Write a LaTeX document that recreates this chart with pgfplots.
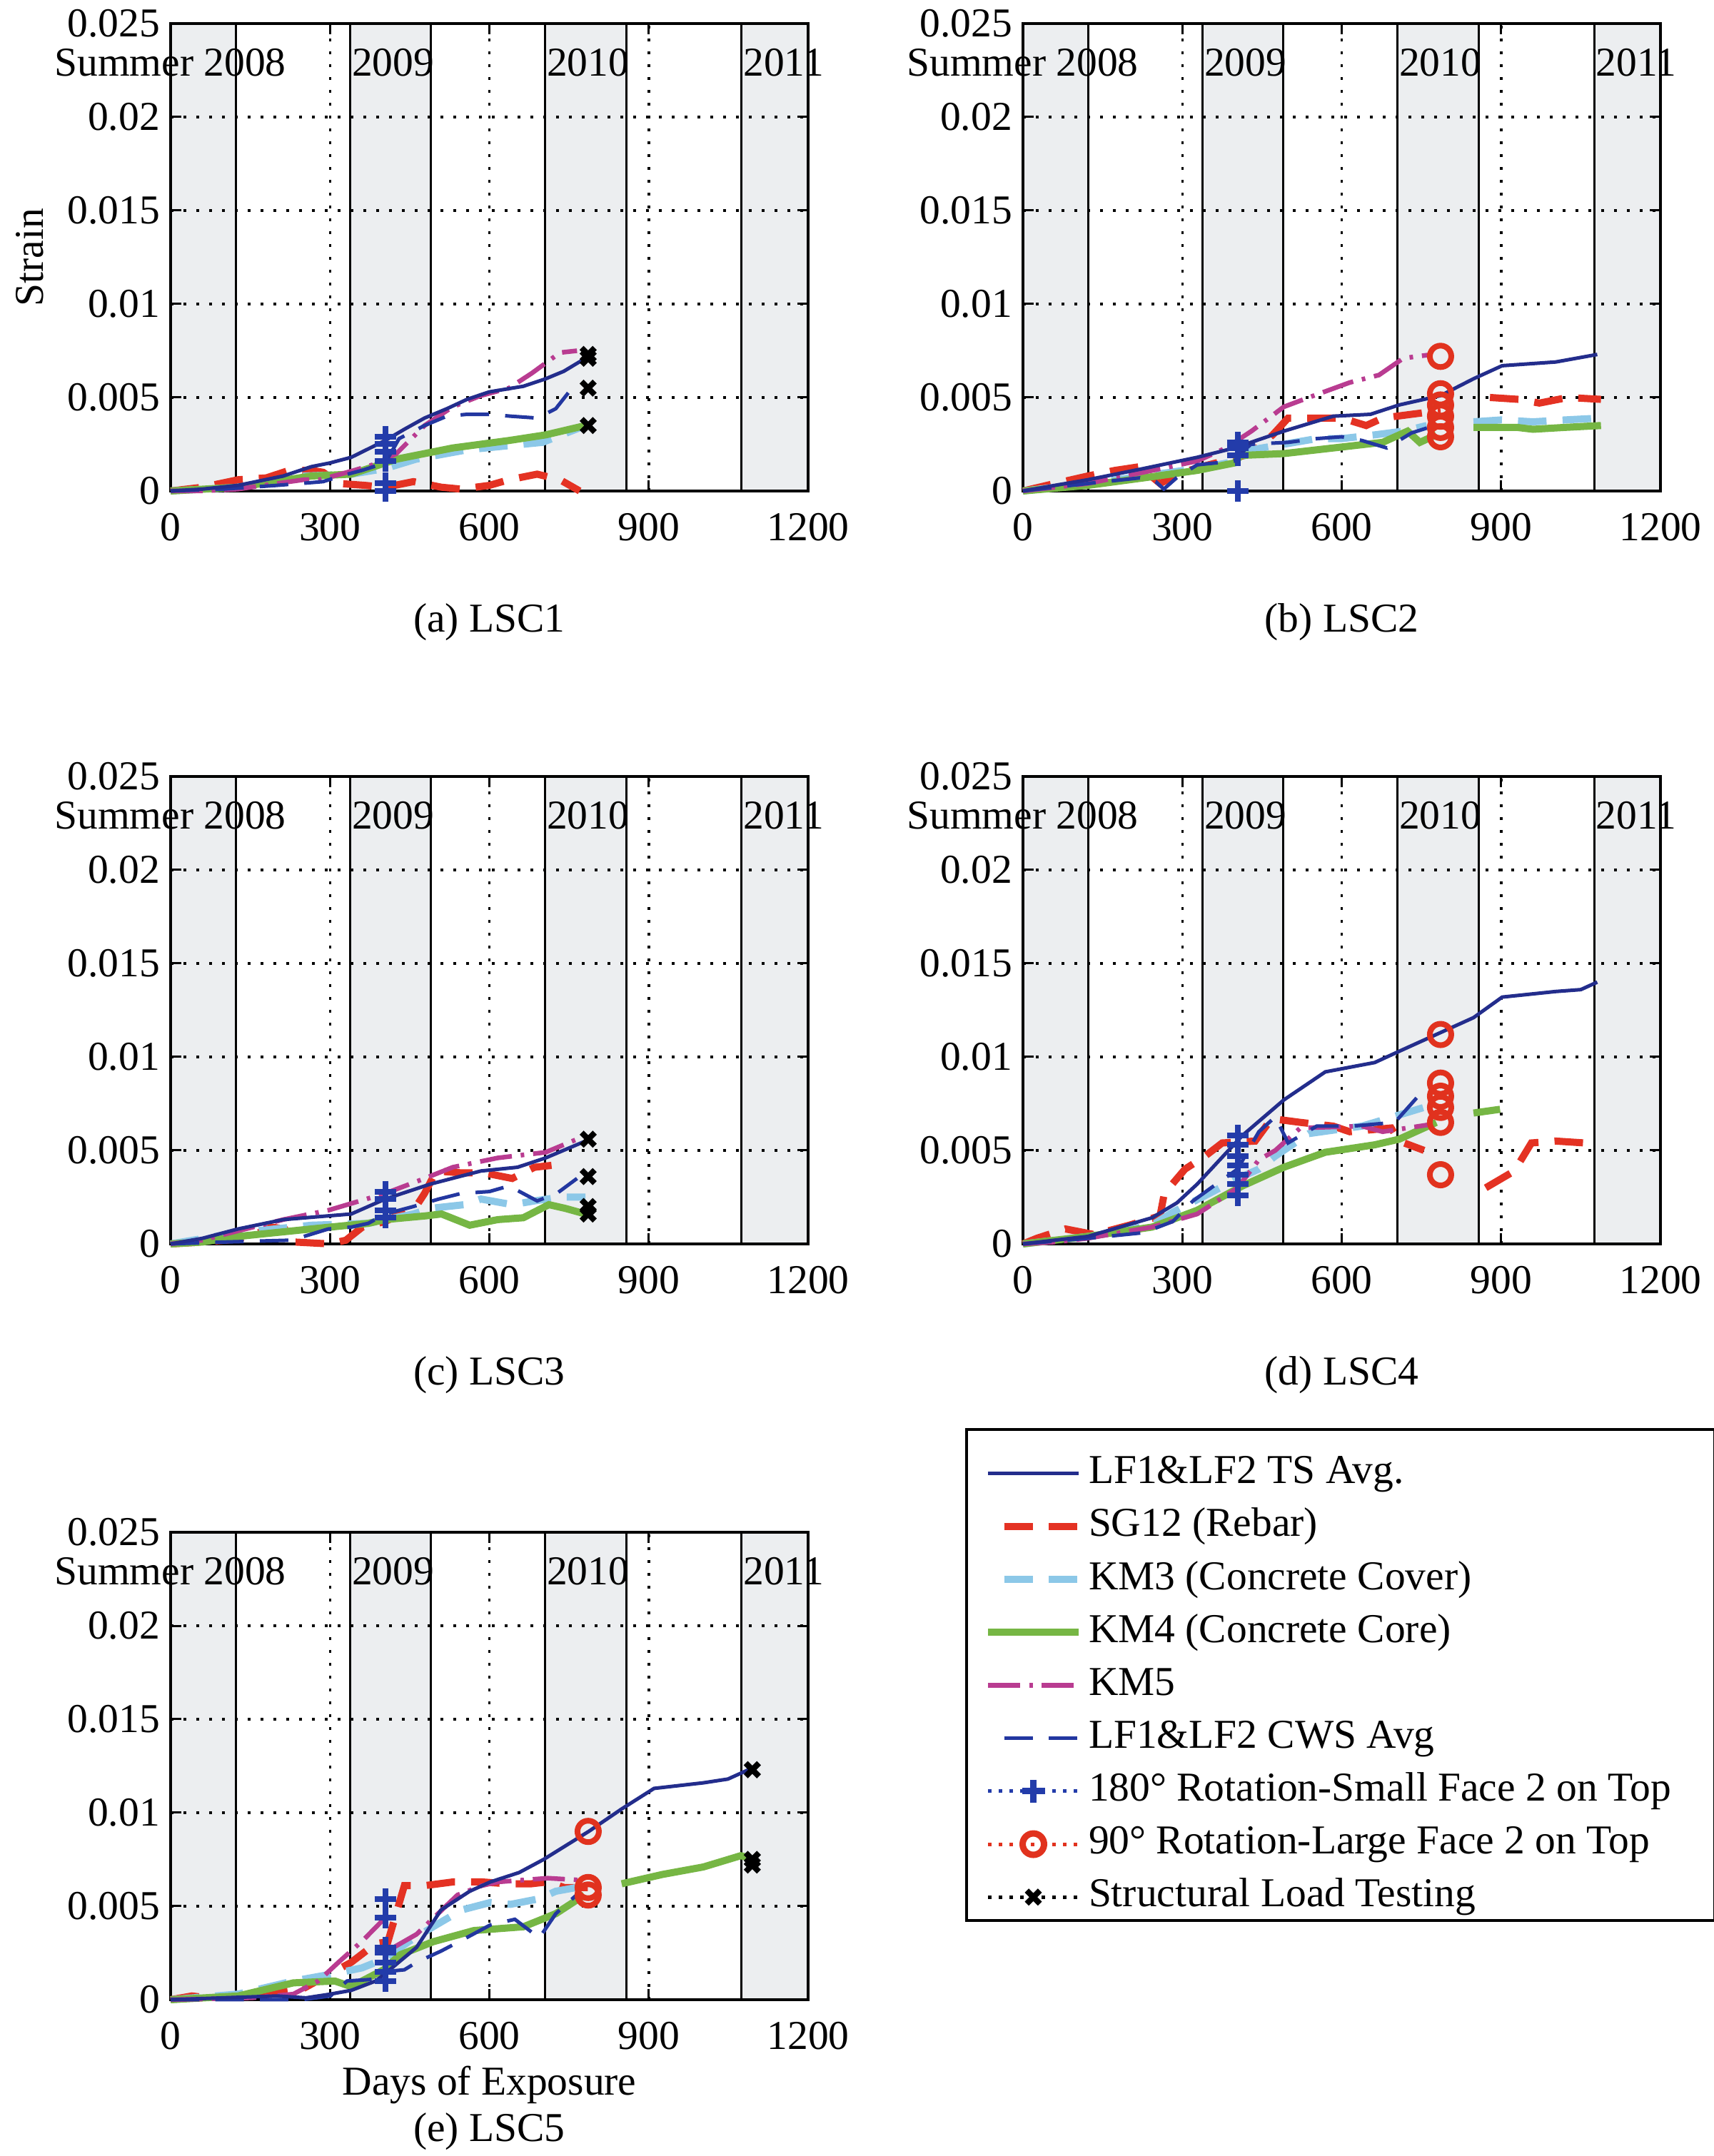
\documentclass[border=0pt]{standalone}
\usepackage{fontspec}
\setmainfont{Liberation Serif}
\usepackage{pgfplots}
\pgfplotsset{compat=1.18}
\definecolor{bandgray}{RGB}{236,238,240}
\definecolor{tsblue}{RGB}{35,45,140}
\definecolor{cwsblue}{RGB}{35,55,160}
\definecolor{sgred}{RGB}{228,50,35}
\definecolor{kmthree}{RGB}{140,200,232}
\definecolor{kmfour}{RGB}{118,182,68}
\definecolor{kmfive}{RGB}{185,60,145}
\definecolor{rotblue}{RGB}{35,60,170}
\definecolor{rotred}{RGB}{225,50,30}
\pgfplotsset{
 panel/.style={
  scale only axis, width=178.6pt, height=131pt, anchor=south west,
  xmin=0, xmax=1200, ymin=0, ymax=0.025,
  xtick={0,300,600,900,1200}, xticklabels={0,300,600,900,1200},
  ytick={0,0.005,0.01,0.015,0.02,0.025},
  yticklabels={0,0.005,0.01,0.015,0.02,0.025},
  scaled ticks=false,
  tick align=inside, major tick length=3pt,
  tick style={black, line width=0.6pt},
  xticklabel style={yshift=-2.3pt},
  yticklabel style={xshift=1pt},
  grid=major,
  major grid style={black, line width=0.7pt, dash pattern=on 0.7pt off 2.9pt},
  axis line style={black, line width=0.8pt},
  clip=false, set layers, unbounded coords=jump,
 },
 bandbox/.style={fill=bandgray, draw=none, on layer=axis background, forget plot},
 bandline/.style={black, line width=0.6pt, on layer=axis background, forget plot},
 ts/.style={tsblue, line width=1pt},
 sg/.style={sgred, line width=2pt, dash pattern=on 8pt off 4.5pt},
 kmc/.style={kmthree, line width=2pt, dash pattern=on 8pt off 4.5pt},
 kmk/.style={kmfour, line width=2pt},
 kmf/.style={kmfive, line width=1.3pt, dash pattern=on 9pt off 2.5pt on 1pt off 2.5pt},
 cws/.style={cwsblue, line width=1pt, dash pattern=on 8pt off 4.5pt},
 rotp/.style={rotblue, only marks, mark=+, mark size=3pt, mark options={solid, line width=1.6pt}},
 roto/.style={rotred, only marks, mark=o, mark size=3pt, mark options={solid, line width=1.6pt}},
 slt/.style={black, only marks, mark=x, mark size=2.6pt, mark options={solid, line width=1.6pt}},
}
\newcommand\bands{%
 \addplot[bandbox] coordinates {(0,0.025) (123,0.025)} \closedcycle;
 \addplot[bandbox] coordinates {(338,0.025) (490,0.025)} \closedcycle;
 \addplot[bandbox] coordinates {(705,0.025) (858,0.025)} \closedcycle;
 \addplot[bandbox] coordinates {(1075,0.025) (1200,0.025)} \closedcycle;
 \addplot[bandline] coordinates {(123,0) (123,0.025)};
 \addplot[bandline] coordinates {(338,0) (338,0.025)};
 \addplot[bandline] coordinates {(490,0) (490,0.025)};
 \addplot[bandline] coordinates {(705,0) (705,0.025)};
 \addplot[bandline] coordinates {(858,0) (858,0.025)};
 \addplot[bandline] coordinates {(1075,0) (1075,0.025)};
 \node[anchor=west, inner sep=0pt] at (axis cs:-220,0.0229) {Summer 2008};
 \node[anchor=west, inner sep=0pt] at (axis cs:340,0.0229) {2009};
 \node[anchor=west, inner sep=0pt] at (axis cs:707,0.0229) {2010};
 \node[anchor=west, inner sep=0pt] at (axis cs:1077,0.0229) {2011};
}
\begin{document}
\fontsize{11.5pt}{13.8pt}\selectfont
\begin{tikzpicture}
\path (0,0) rectangle (480pt,604.2pt);

% (a) LSC1
\begin{axis}[panel, at={(47.8pt,466.6pt)}, ylabel={Strain},
  ylabel style={at={(axis description cs:-0.2206,0.5)}, anchor=center}]
\bands
\addplot[sg] coordinates {(0,0) (60,0.0002) (127,0.0006) (180,0.0007) (223,0.0011) (265,0.0011) (287,0.0010) (318,0.0004) (366,0.0003) (404,0.0002) (457,0.0005) (510,0.0002) (547,0.0001) (600,0.0003) (637,0.0006) (690,0.0009) (733,0.0006) (770,0.0000)};
\addplot[kmc] coordinates {(0,0) (127,0.0002) (250,0.0008) (340,0.0009) (404,0.0012) (462,0.0017) (558,0.0022) (664,0.0025) (700,0.0026) (781,0.0035)};
\addplot[kmk] coordinates {(0,0) (127,0.0002) (265,0.0008) (340,0.0009) (404,0.0015) (425,0.0017) (531,0.0023) (637,0.0027) (706,0.0030) (781,0.0035)};
\addplot[kmf] coordinates {(0,0) (60,0) (127,0.0001) (200,0.0004) (250,0.0006) (280,0.0006) (320,0.0009) (345,0.0011) (380,0.0014) (404,0.0017) (425,0.0020) (478,0.0035) (531,0.0045) (584,0.0051) (637,0.0055) (680,0.0063) (733,0.0074) (765,0.0075)};
\addplot[cws] coordinates {(0,0) (100,0.0001) (200,0.0003) (244,0.0004) (287,0.0005) (320,0.0008) (360,0.0011) (404,0.0015) (430,0.0028) (478,0.0035) (520,0.0040) (558,0.0041) (600,0.0041) (640,0.0040) (690,0.0039) (725,0.0044) (750,0.0053) (770,0.0055)};
\addplot[ts] coordinates {(0,0) (60,0.0001) (127,0.0003) (212,0.0008) (265,0.0013) (300,0.0015) (340,0.0018) (404,0.0027) (440,0.0033) (478,0.0039) (520,0.0044) (558,0.0049) (600,0.0053) (664,0.0056) (706,0.0060) (740,0.0064) (781,0.0071)};
\addplot[rotp] coordinates {(404,0.0029) (404,0.0025) (404,0.0021) (404,0.0016) (404,0.0004) (404,0.0000)};
\addplot[slt] coordinates {(786,0.0073) (786,0.0071) (786,0.0055) (786,0.0035)};
\node at (axis description cs:0.5,-0.281) {(a) LSC1};
\end{axis}

% (b) LSC2
\begin{axis}[panel, at={(286.6pt,466.6pt)}]
\bands
\addplot[sg] coordinates {(0,0) (60,0.0004) (122,0.0008) (173,0.0011) (220,0.0013) (258,0.0004) (300,0.0010) (350,0.0014) (404,0.0018) (429,0.0020) (470,0.0030) (499,0.0039) (553,0.0039) (600,0.0039) (646,0.0035) (677,0.0039) (731,0.0041) (786,0.0043) (nan,nan) (879,0.0050) (933,0.0049) (972,0.0047) (1026,0.0050) (1088,0.0049)};
\addplot[kmc] coordinates {(0,0) (122,0.0004) (227,0.0008) (328,0.0012) (404,0.0016) (429,0.0022) (491,0.0025) (553,0.0028) (600,0.0028) (662,0.0030) (716,0.0032) (760,0.0035) (nan,nan) (848,0.0037) (900,0.0038) (960,0.0037) (1020,0.0038) (1088,0.0039)};
\addplot[kmk] coordinates {(0,0) (122,0.0003) (227,0.0007) (328,0.0011) (398,0.0015) (410,0.0019) (491,0.0020) (584,0.0023) (677,0.0026) (724,0.0032) (747,0.0026) (778,0.0030) (nan,nan) (848,0.0034) (930,0.0034) (960,0.0033) (1020,0.0034) (1088,0.0035)};
\addplot[kmf] coordinates {(0,0) (122,0.0004) (227,0.0010) (328,0.0016) (382,0.0023) (430,0.0032) (491,0.0045) (538,0.0050) (615,0.0058) (670,0.0062) (716,0.0071) (770,0.0073)};
\addplot[cws] coordinates {(0,0) (122,0.0004) (220,0.0007) (250,0.0005) (265,0.0001) (289,0.0007) (328,0.0014) (398,0.0016) (410,0.0020) (429,0.0025) (499,0.0026) (553,0.0028) (600,0.0029) (638,0.0027) (685,0.0023) (731,0.0031) (786,0.0036)};
\addplot[ts] coordinates {(0,0) (60,0.0003) (122,0.0006) (227,0.0012) (328,0.0018) (398,0.0023) (491,0.0032) (584,0.0040) (654,0.0041) (708,0.0046) (786,0.0051) (848,0.0060) (902,0.0067) (1003,0.0069) (1081,0.0073)};
\addplot[rotp] coordinates {(404,0.0026) (404,0.0023) (404,0.0019) (404,0.0000)};
\addplot[roto] coordinates {(786,0.0072) (786,0.0052) (786,0.0046) (786,0.0040) (786,0.0034) (786,0.0029)};
\node at (axis description cs:0.5,-0.281) {(b) LSC2};
\end{axis}

% (c) LSC3
\begin{axis}[panel, at={(47.8pt,255.6pt)}]
\bands
\addplot[sg] coordinates {(0,0) (60,0.0001) (106,0.0002) (150,0.0004) (190,0.0009) (215,0.0008) (234,0.0001) (300,0.0000) (330,0.0002) (361,0.0009) (404,0.0012) (462,0.0020) (478,0.0027) (500,0.0039) (547,0.0038) (590,0.0038) (643,0.0035) (685,0.0041) (717,0.0042)};
\addplot[kmc] coordinates {(0,0) (127,0.0006) (265,0.0010) (372,0.0011) (404,0.0013) (457,0.0016) (489,0.0019) (553,0.0021) (584,0.0024) (643,0.0021) (685,0.0023) (733,0.0025) (781,0.0025)};
\addplot[kmk] coordinates {(0,0) (60,0.0001) (127,0.0004) (265,0.0008) (372,0.0011) (404,0.0013) (480,0.0015) (510,0.0016) (563,0.0010) (616,0.0013) (664,0.0014) (712,0.0021) (743,0.0019) (781,0.0016)};
\addplot[kmf] coordinates {(0,0) (60,0.0002) (127,0.0007) (212,0.0013) (297,0.0018) (404,0.0027) (478,0.0035) (531,0.0041) (616,0.0046) (706,0.0049) (765,0.0056)};
\addplot[cws] coordinates {(0,0) (100,0.0001) (228,0.0002) (297,0.0008) (340,0.0009) (372,0.0011) (404,0.0016) (457,0.0020) (505,0.0024) (547,0.0027) (600,0.0028) (637,0.0031) (690,0.0023) (727,0.0027) (765,0.0035)};
\addplot[ts] coordinates {(0,0) (60,0.0003) (127,0.0008) (212,0.0013) (297,0.0015) (340,0.0016) (404,0.0024) (489,0.0032) (584,0.0039) (653,0.0041) (706,0.0046) (781,0.0055)};
\addplot[rotp] coordinates {(404,0.0028) (404,0.0024) (404,0.0018) (404,0.0014)};
\addplot[slt] coordinates {(786,0.0056) (786,0.0036) (786,0.0020) (786,0.0016)};
\node at (axis description cs:0.5,-0.281) {(c) LSC3};
\end{axis}

% (d) LSC4
\begin{axis}[panel, at={(286.6pt,255.6pt)}]
\bands
\addplot[sg] coordinates {(0,0) (26,0.0003) (80,0.0008) (134,0.0005) (200,0.0010) (258,0.0015) (266,0.0027) (305,0.0040) (343,0.0047) (375,0.0054) (437,0.0055) (468,0.0067) (522,0.0065) (584,0.0063) (615,0.0060) (693,0.0062) (708,0.0055) (755,0.0050) (nan,nan) (871,0.0030) (925,0.0039) (957,0.0054) (1003,0.0055) (1057,0.0054) (1081,0.0051)};
\addplot[kmc] coordinates {(0,0) (122,0.0004) (243,0.0010) (282,0.0017) (351,0.0027) (404,0.0035) (444,0.0040) (475,0.0047) (538,0.0059) (638,0.0063) (662,0.0065) (778,0.0075)};
\addplot[kmk] coordinates {(0,0) (122,0.0004) (243,0.0009) (328,0.0018) (413,0.0031) (491,0.0041) (569,0.0049) (662,0.0053) (708,0.0056) (778,0.0065) (nan,nan) (848,0.0070) (898,0.0072)};
\addplot[kmf] coordinates {(0,0) (60,0.0001) (122,0.0003) (243,0.0009) (328,0.0016) (404,0.0030) (444,0.0045) (475,0.0050) (522,0.0062) (638,0.0063) (677,0.0060) (770,0.0064)};
\addplot[cws] coordinates {(0,0) (122,0.0003) (227,0.0006) (282,0.0012) (320,0.0023) (359,0.0031) (404,0.0040) (444,0.0060) (475,0.0068) (499,0.0054) (553,0.0063) (620,0.0063) (700,0.0065) (747,0.0080)};
\addplot[ts] coordinates {(0,0) (60,0.0002) (122,0.0004) (243,0.0014) (290,0.0022) (328,0.0032) (413,0.0058) (491,0.0077) (569,0.0092) (662,0.0097) (708,0.0103) (778,0.0112) (848,0.0121) (902,0.0132) (1003,0.0135) (1050,0.0136) (1081,0.0140)};
\addplot[rotp] coordinates {(404,0.0058) (404,0.0053) (404,0.0047) (404,0.0042) (404,0.0037) (404,0.0032) (404,0.0026)};
\addplot[roto] coordinates {(786,0.0112) (786,0.0086) (786,0.0079) (786,0.0073) (786,0.0065) (786,0.0037)};
\node at (axis description cs:0.5,-0.281) {(d) LSC4};
\end{axis}

% (e) LSC5
\begin{axis}[panel, at={(47.8pt,43.8pt)}, xlabel={Days of Exposure},
  xlabel style={at={(axis description cs:0.5,-0.183)}, anchor=center}]
\bands
\addplot[sg] coordinates {(0,0) (40,0.0002) (70,0.0001) (150,0.0002) (250,0.0006) (340,0.0020) (386,0.0030) (409,0.0031) (440,0.0061) (478,0.0061) (532,0.0063) (586,0.0063) (633,0.0062) (679,0.0062) (710,0.0063) (741,0.0060) (786,0.0060)};
\addplot[kmc] coordinates {(0,0) (127,0.0003) (231,0.0010) (309,0.0014) (360,0.0017) (404,0.0022) (448,0.0031) (494,0.0039) (548,0.0048) (602,0.0052) (640,0.0051) (694,0.0054) (725,0.0058) (764,0.0060)};
\addplot[kmk] coordinates {(0,0) (127,0.0002) (231,0.0009) (309,0.0010) (340,0.0007) (401,0.0016) (432,0.0024) (494,0.0031) (571,0.0037) (664,0.0039) (725,0.0046) (779,0.0056) (nan,nan) (849,0.0062) (926,0.0067) (1003,0.0071) (1073,0.0077) (1088,0.0076)};
\addplot[kmf] coordinates {(0,0) (154,0.0001) (231,0.0003) (278,0.0010) (316,0.0020) (363,0.0032) (401,0.0043) (nan,nan) (420,0.0028) (463,0.0035) (540,0.0056) (586,0.0061) (617,0.0063) (710,0.0065) (770,0.0064)};
\addplot[cws] coordinates {(0,0) (150,0.0000) (247,0.0000) (301,0.0002) (332,0.0010) (386,0.0011) (404,0.0015) (440,0.0016) (463,0.0020) (509,0.0026) (556,0.0033) (602,0.0040) (648,0.0043) (694,0.0033) (725,0.0046) (772,0.0058)};
\addplot[ts] coordinates {(0,0) (100,0.0001) (200,0.0002) (255,0.0001) (301,0.0003) (340,0.0005) (386,0.0010) (404,0.0014) (463,0.0028) (509,0.0048) (563,0.0058) (602,0.0063) (656,0.0068) (702,0.0075) (787,0.0090) (849,0.0102) (910,0.0113) (1003,0.0116) (1049,0.0118) (1088,0.0123)};
\addplot[rotp] coordinates {(404,0.0054) (404,0.0044) (404,0.0028) (404,0.0025) (404,0.0020) (404,0.0015) (404,0.0010)};
\addplot[roto] coordinates {(786,0.0090) (786,0.0060) (786,0.0056)};
\addplot[slt] coordinates {(1095,0.0123) (1095,0.0075) (1095,0.0072)};
\node at (axis description cs:0.5,-0.2824) {(e) LSC5};
\end{axis}

% legend (axis frame serves as the legend box)
\begin{axis}[at={(270.8pt,66pt)}, anchor=south west, scale only axis,
  width=209.6pt, height=137.6pt, xmin=0, xmax=1, ymin=0, ymax=1,
  xtick=\empty, ytick=\empty, axis line style={black, line width=0.8pt},
  legend cell align=left,
  legend style={at={(0,1)}, anchor=north west, draw=none, fill=none,
    inner xsep=4.8pt, inner ysep=6.95pt, row sep=4.33pt, column sep=1.8pt,
    nodes={inner sep=0pt, text height=8pt, text depth=2.5pt}},
  legend image code/.code={\draw[mark repeat=2, mark phase=2, #1] plot coordinates {(0pt,0pt) (12.7pt,0pt) (25.4pt,0pt)};}]
\addlegendimage{ts}
\addlegendentry{LF1\&LF2 TS Avg.}
\addlegendimage{sg, dash phase=8pt}
\addlegendentry{SG12 (Rebar)}
\addlegendimage{kmc, dash phase=8pt}
\addlegendentry{KM3 (Concrete Cover)}
\addlegendimage{kmk}
\addlegendentry{KM4 (Concrete Core)}
\addlegendimage{kmf}
\addlegendentry{KM5}
\addlegendimage{cws, dash phase=8pt}
\addlegendentry{LF1\&LF2 CWS Avg}
\addlegendimage{rotblue, line width=1pt, dash pattern=on 1pt off 2pt, mark=+, mark size=3.2pt, mark options={solid, line width=1.8pt}}
\addlegendentry{180° Rotation-Small Face 2 on Top}
\addlegendimage{rotred, line width=1pt, dash pattern=on 1pt off 2pt, mark=o, mark size=3pt, mark options={solid, line width=1.8pt}}
\addlegendentry{90° Rotation-Large Face 2 on Top}
\addlegendimage{black, line width=1pt, dash pattern=on 1pt off 2pt, mark=x, mark size=2.6pt, mark options={solid, line width=1.6pt}}
\addlegendentry{Structural Load Testing}
\end{axis}
\pgfresetboundingbox
\path[use as bounding box] (0,0) rectangle (480pt,604.2pt);
\end{tikzpicture}
\end{document}
